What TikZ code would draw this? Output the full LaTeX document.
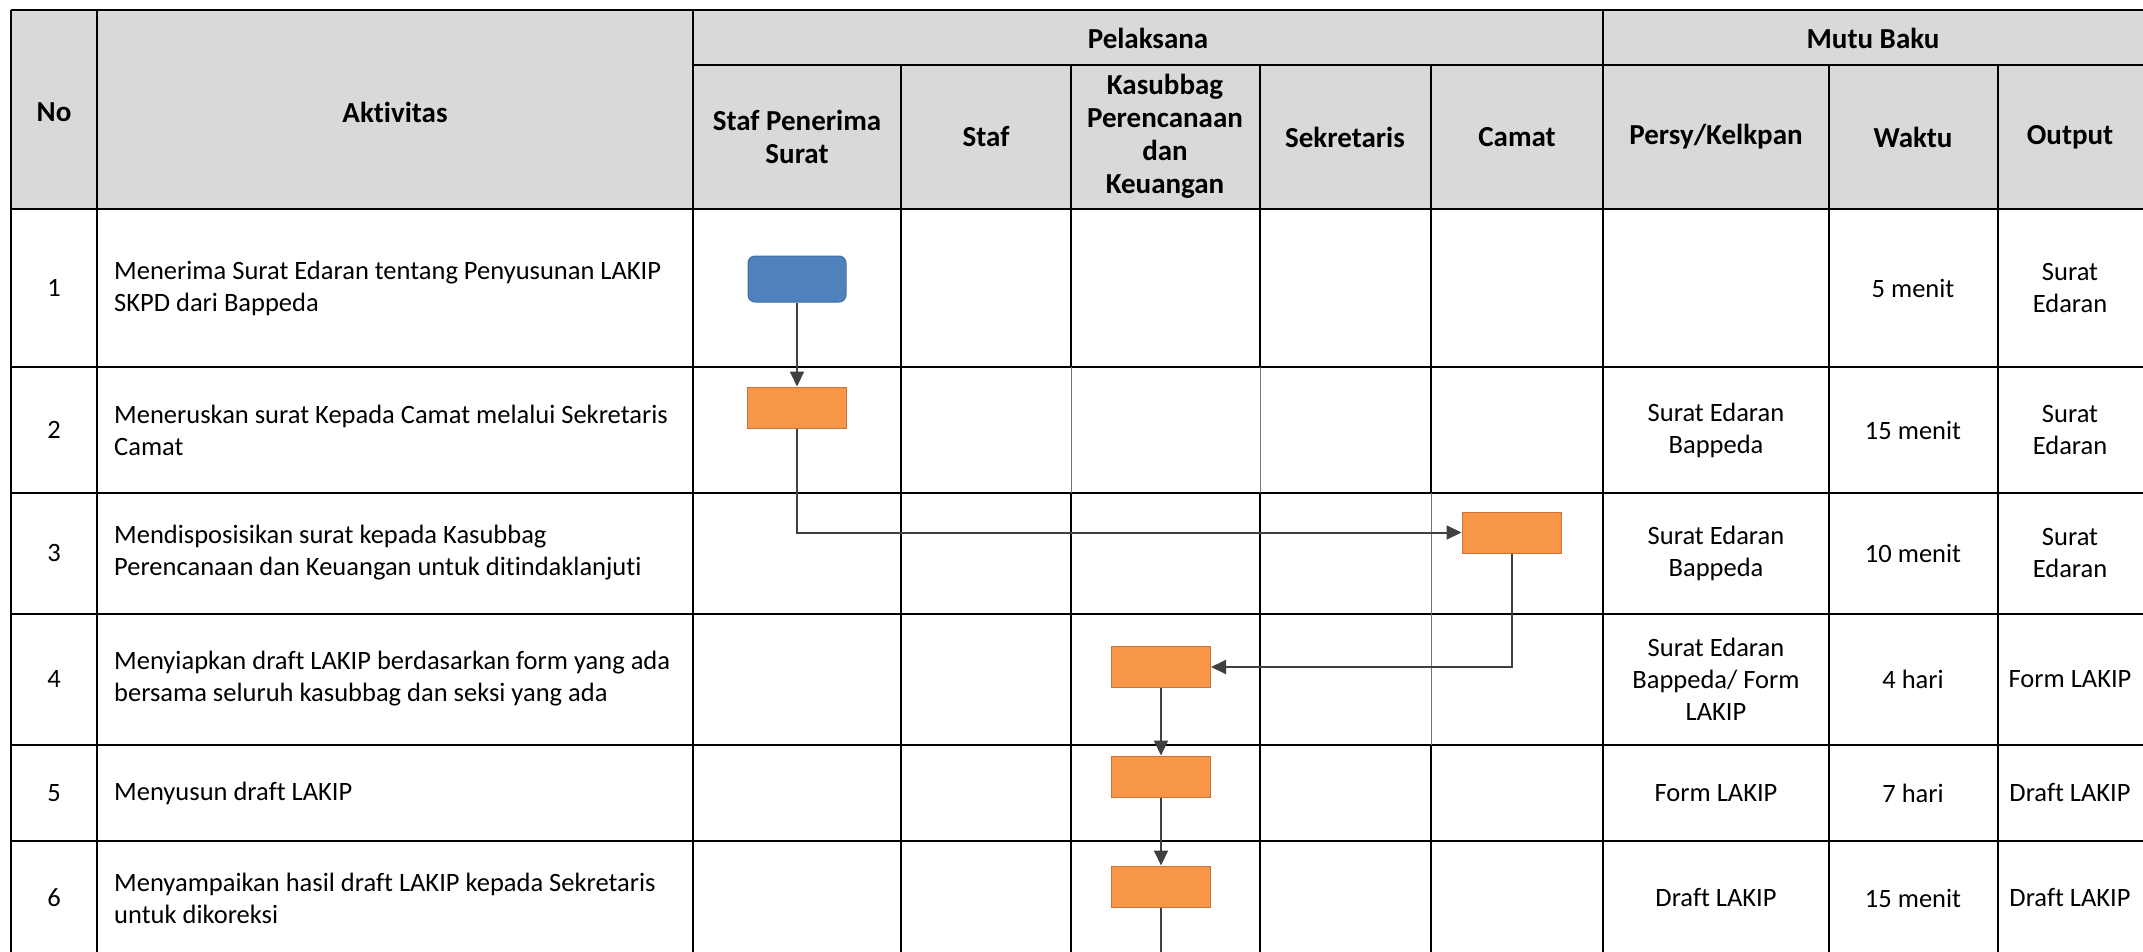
\documentclass[tikz,border=0pt]{standalone}
\usepackage{fontspec}
\setmainfont{Carlito}[Ligatures=NoCommon]
\usetikzlibrary{arrows.meta}
\definecolor{hdrgray}{HTML}{D9D9D9}
\definecolor{boxblue}{HTML}{4F81BD}
\definecolor{boxblueline}{HTML}{41719C}
\definecolor{boxorange}{HTML}{F79646}
\definecolor{boxorangeline}{HTML}{C8733A}
\definecolor{arrowgray}{HTML}{404040}
\tikzset{
  grid/.style={draw=black, line width=2pt},
  thingrid/.style={draw=black!55, line width=1pt},
  txt/.style={font=\fontsize{26.5}{32}\selectfont, inner sep=0pt, align=center},
  hdr/.style={font=\fontsize{29}{33}\selectfont\bfseries, inner sep=0pt, align=center},
  acttxt/.style={font=\fontsize{26.5}{32}\selectfont, inner sep=0pt, align=left, anchor=west},
  startbox/.style={draw=boxblueline, fill=boxblue, line width=1pt, rounded corners=7pt, minimum width=98pt, minimum height=46pt, inner sep=0pt},
  procbox/.style={draw=boxorangeline, fill=boxorange, line width=1pt, minimum width=99pt, minimum height=41pt, inner sep=0pt},
  flow/.style={draw=arrowgray, line width=2pt, -{Triangle[length=15pt,width=14pt]}},
  flowline/.style={draw=arrowgray, line width=2pt}
}
\begin{document}
\begin{tikzpicture}[x=1pt,y=-1pt]
\useasboundingbox (0,0) rectangle (2143,952);
% header background
\fill[hdrgray] (11,10) rectangle (2143,209);
% horizontal lines
\draw[grid] (11,10) -- (2143,10);
\draw[grid] (693,65) -- (2143,65);
\foreach \yy in {209,367,493,614,745,841} {\draw[grid] (11,\yy) -- (2143,\yy);}
% vertical lines
\foreach \xx in {11,97,693,1603} {\draw[grid] (\xx,10) -- (\xx,952);}
\foreach \xx in {901,1829,1998} {\draw[grid] (\xx,65) -- (\xx,952);}
\draw[grid] (1071,65) -- (1071,367);
\draw[grid] (1071,493) -- (1071,952);
\draw[thingrid] (1071,367) -- (1071,493);
\draw[grid] (1260,65) -- (1260,367);
\draw[grid] (1260,493) -- (1260,952);
\draw[thingrid] (1260,367) -- (1260,493);
\draw[grid] (1431,65) -- (1431,493);
\draw[grid] (1431,745) -- (1431,952);
\draw[thingrid] (1431,493) -- (1431,745);

% header texts
\node[hdr] (hNo) at (54,112) {No};
\node[hdr] (hAkt) at (395,112) {Aktivitas};
\node[hdr] (hPel) at (1148,38) {Pelaksana};
\node[hdr] (hMutu) at (1873,38) {Mutu Baku};
\node[hdr] (hSPS) at (797,137) {Staf Penerima\\Surat};
\node[hdr] (hStaf) at (986,137) {Staf};
\node[hdr] (hKas) at (1165,136) {Kasubbag\\Perencanaan\\dan\\Keuangan};
\node[hdr] (hSek) at (1345,137) {Sekretaris};
\node[hdr] (hCam) at (1517,137) {Camat};
\node[hdr] (hPer) at (1716,137) {Persy/Kelkpan};
\node[hdr] (hWak) at (1913,137) {Waktu};
\node[hdr] (hOut) at (2070,137) {Output};

% numbers
\node[txt] (n1) at (54,288) {1};
\node[txt] (n2) at (54,430) {2};
\node[txt] (n3) at (54,553) {3};
\node[txt] (n4) at (54,679) {4};
\node[txt] (n5) at (54,793) {5};
\node[txt] (n6) at (54,898) {6};

% activities
\node[acttxt] (a1) at (114,288) {Menerima Surat Edaran tentang Penyusunan LAKIP\\SKPD dari Bappeda};
\node[acttxt] (a2) at (114,430) {Meneruskan surat Kepada Camat melalui Sekretaris\\Camat};
\node[acttxt] (a3) at (114,553) {Mendisposisikan surat kepada Kasubbag\\Perencanaan dan Keuangan untuk ditindaklanjuti};
\node[acttxt] (a4) at (114,679) {Menyiapkan draft LAKIP berdasarkan form yang ada\\bersama seluruh kasubbag dan seksi yang ada};
\node[acttxt] (a5) at (114,793) {Menyusun draft LAKIP};
\node[acttxt] (a6) at (114,898) {Menyampaikan hasil draft LAKIP kepada Sekretaris\\untuk dikoreksi};

% persy
\node[txt] (p2) at (1716,430) {Surat Edaran\\Bappeda};
\node[txt] (p3) at (1716,553) {Surat Edaran\\Bappeda};
\node[txt] (p4) at (1716,679) {Surat Edaran\\Bappeda/ Form\\LAKIP};
\node[txt] (p5) at (1716,793) {Form LAKIP};
\node[txt] (p6) at (1716,898) {Draft LAKIP};
% waktu
\node[txt] (w1) at (1913,288) {5 menit};
\node[txt] (w2) at (1913,430) {15 menit};
\node[txt] (w3) at (1913,553) {10 menit};
\node[txt] (w4) at (1913,679) {4 hari};
\node[txt] (w5) at (1913,793) {7 hari};
\node[txt] (w6) at (1913,898) {15 menit};
% output
\node[txt] (o1t) at (2070,288) {Surat\\Edaran};
\node[txt] (o2t) at (2070,430) {Surat\\Edaran};
\node[txt] (o3t) at (2070,553) {Surat\\Edaran};
\node[txt] (o4t) at (2070,679) {Form LAKIP};
\node[txt] (o5t) at (2070,793) {Draft LAKIP};
\node[txt] (o6t) at (2070,898) {Draft LAKIP};

% flow boxes
\node[startbox] (b1) at (797,279) {};
\node[procbox] (b2) at (797,407.5) {};
\node[procbox] (b3) at (1511.5,532.5) {};
\node[procbox] (b4) at (1161,667) {};
\node[procbox] (b5) at (1161,776.5) {};
\node[procbox] (b6) at (1161,886.5) {};
\coordinate (bend) at (1161,952);

% connectors
\draw[flow] (b1.south) -- (b2.north);
\draw[flow] (b2.south) |- (b3.west);
\draw[flow] (b3.south) |- (b4.east);
\draw[flow] (b4.south) -- (b5.north);
\draw[flow] (b5.south) -- (b6.north);
\draw[flowline] (b6.south) -- (bend);
\end{tikzpicture}
\end{document}
